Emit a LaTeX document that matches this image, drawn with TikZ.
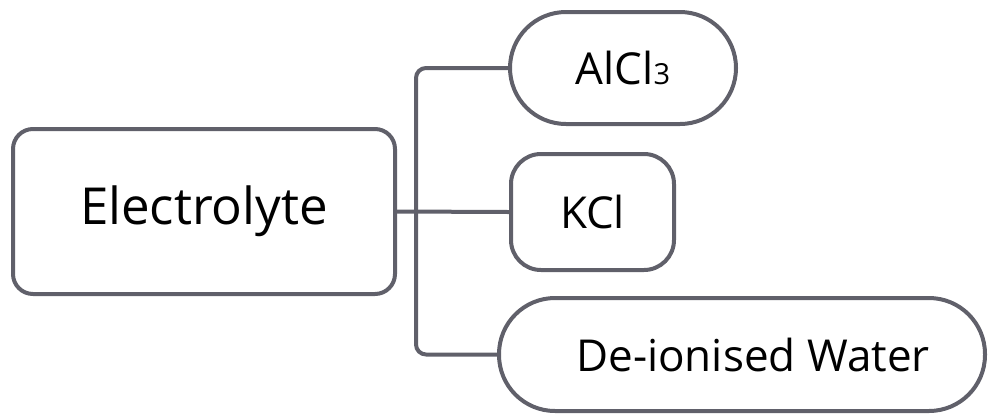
\documentclass[tikz,border=0pt]{standalone}
\usepackage{fontspec}
\setmainfont{Open Sans}
\definecolor{linegray}{RGB}{96,96,106}
\begin{document}
\begin{tikzpicture}[x=1pt, y=-1pt, line width=4pt,
		every node/.style={draw=linegray, align=center, inner sep=0pt},
		rootbox/.style={rounded corners=20pt, font=\fontsize{51}{60}\selectfont},
		leafbox/.style={font=\fontsize{44}{54}\selectfont}]
		\useasboundingbox (0,0) rectangle (990,416);

		% Root
		\node[rootbox, minimum width=382pt, minimum height=165pt] (elec) at (204,211.5) {Electrolyte};

		% Leaves
		\node[leafbox, rounded corners=56pt, minimum width=226pt, minimum height=112pt] (alcl) at (623,68) {AlCl{\fontsize{29}{36}\selectfont 3}};
		\node[leafbox, rounded corners=30pt, minimum width=163pt, minimum height=116pt] (kcl) at (592.5,212) {KCl};
		\node[leafbox, rounded corners=56pt, minimum width=486pt, minimum height=113pt] (water) at (742,354.5) {\hspace{22pt}De-ionised Water};

		% Connectors
		\coordinate (fork) at (416,212);
		\draw[linegray, rounded corners=10pt] (alcl.west) -| (fork) |- (water.west);
		\draw[linegray] (elec.east) -- (kcl.west);
	\end{tikzpicture}
\end{document}
